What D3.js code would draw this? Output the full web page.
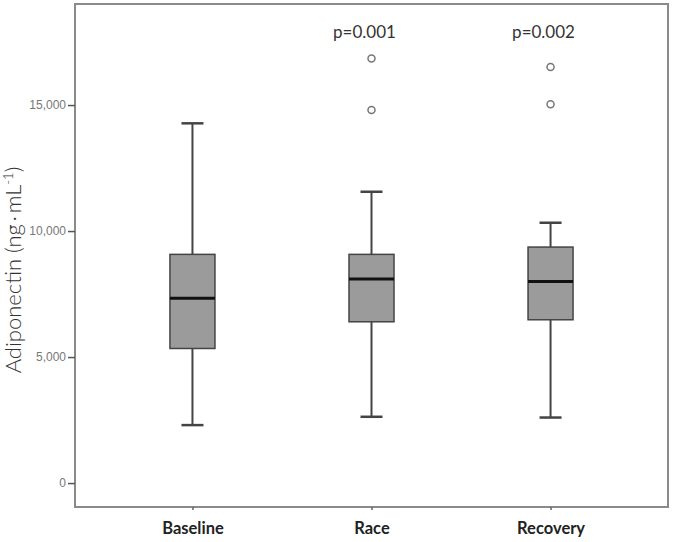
<!DOCTYPE html>
<html><head><meta charset="utf-8">
<script src="https://cdn.jsdelivr.net/npm/d3@7"></script>
<style>body{margin:0;background:#fff}</style>
</head><body>
<script>
const categories = ["Baseline", "Race", "Recovery"];
const whiskerLow = [2300, 2630, 2600];
const q1 = [5340, 6400, 6480];
const median = [7330, 8095, 8000];
const q3 = [9075, 9075, 9365];
const whiskerHigh = [14275, 11560, 10330];
const outliers = [[], [16850, 14800], [16510, 15030]];
const pLabels = ["", "p=0.001", "p=0.002"];
const yTicks = [0, 5000, 10000, 15000];

(function () {
const W = 677, H = 542;
const mLeft = 75, mRight = 668, mTop = 4, mBottom = 507;
const svg = d3.select("body").append("svg").attr("width", W).attr("height", H);

const y = d3.scaleLinear().domain([-950, 19010]).range([mBottom, mTop]);
const x = d3.scalePoint().domain(categories).range([mLeft, mRight]).padding(0.656);

// frame
svg.append("rect").attr("x", mLeft).attr("y", mTop).attr("width", mRight - mLeft).attr("height", mBottom - mTop)
  .attr("fill", "none").attr("stroke", "#8a8a8a").attr("stroke-width", 2);

// y axis
const yAxis = svg.append("g").attr("transform", `translate(${mLeft},0)`)
  .call(d3.axisLeft(y).tickValues(yTicks).tickFormat(d3.format(",")).tickSize(7).tickPadding(2));
yAxis.select(".domain").remove();
yAxis.selectAll("line").attr("stroke", "#555").attr("stroke-width", 1.5);
yAxis.selectAll("text").attr("fill", "#777").style("font-family", "Arial, 'Liberation Sans', sans-serif").style("font-size", "12px");

// x axis
const xAxis = svg.append("g").attr("transform", `translate(0,${mBottom})`)
  .call(d3.axisBottom(x).tickSize(3).tickPadding(12));
xAxis.select(".domain").remove();
xAxis.selectAll("line").attr("stroke", "#666").attr("stroke-width", 1.5);
xAxis.selectAll("text").attr("fill", "#222").style("font-family", "Lato, 'Open Sans', sans-serif")
  .style("font-weight", "bold").style("font-size", "16.5px");

// y title
const t = svg.append("text").attr("transform", `translate(21,270) rotate(-90)`).attr("text-anchor", "middle")
  .attr("fill", "#333").style("font-family", "Lato, 'Open Sans', sans-serif").style("font-size", "22px").style("font-weight", 300);
t.append("tspan").text("Adiponectin (ng\u2009·\u2009mL");
t.append("tspan").attr("dy", -8).style("font-size", "13px").text("-1");
t.append("tspan").attr("dy", 8).text(")");

const boxW = 45, capW = 22;
const g = svg.append("g");
categories.forEach((c, i) => {
  const cx = x(c);
  g.append("line").attr("x1", cx).attr("x2", cx).attr("y1", y(whiskerHigh[i])).attr("y2", y(q3[i]))
    .attr("stroke", "#444").attr("stroke-width", 2);
  g.append("line").attr("x1", cx).attr("x2", cx).attr("y1", y(q1[i])).attr("y2", y(whiskerLow[i]))
    .attr("stroke", "#444").attr("stroke-width", 2);
  [whiskerHigh[i], whiskerLow[i]].forEach(v => {
    g.append("line").attr("x1", cx - capW / 2).attr("x2", cx + capW / 2).attr("y1", y(v)).attr("y2", y(v))
      .attr("stroke", "#444").attr("stroke-width", 2.5);
  });
  g.append("rect").attr("x", cx - boxW / 2).attr("width", boxW).attr("y", y(q3[i])).attr("height", y(q1[i]) - y(q3[i]))
    .attr("fill", "#9b9b9b").attr("stroke", "#444").attr("stroke-width", 1.5);
  g.append("line").attr("x1", cx - boxW / 2).attr("x2", cx + boxW / 2).attr("y1", y(median[i])).attr("y2", y(median[i]))
    .attr("stroke", "#111").attr("stroke-width", 3);
  outliers[i].forEach(v => {
    g.append("circle").attr("cx", cx).attr("cy", y(v)).attr("r", 3.5)
      .attr("fill", "#fff").attr("stroke", "#777").attr("stroke-width", 1.5);
  });
  if (pLabels[i]) {
    g.append("text").attr("x", cx - 7).attr("y", 38).attr("text-anchor", "middle").attr("fill", "#333")
      .style("font-family", "Lato, 'Open Sans', sans-serif").style("font-size", "17px").text(pLabels[i]);
  }
});
})();
</script>
</body></html>
